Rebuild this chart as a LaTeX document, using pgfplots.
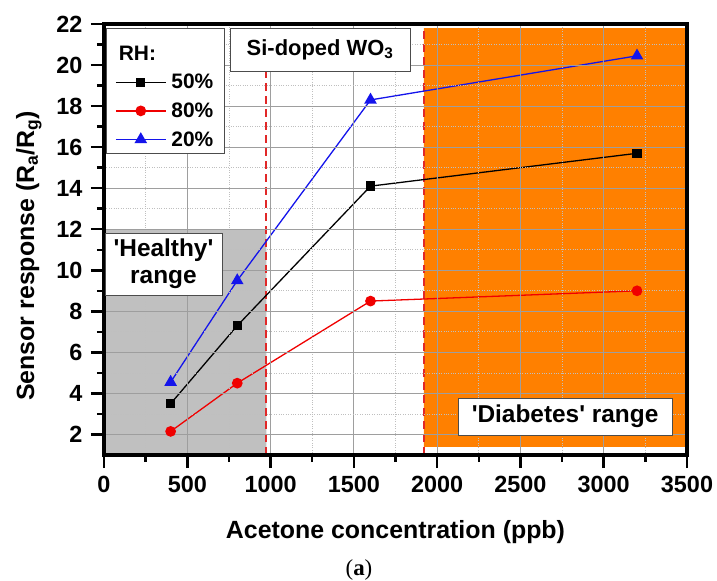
\documentclass[border=0pt]{standalone}
\usepackage{pgfplots}
\pgfplotsset{compat=1.18}
\usepackage{fontspec}
\setmainfont{Liberation Sans}[Ligatures=TeXOff]
\newfontfamily\seriffont{Liberation Serif}
\definecolor{myorange}{RGB}{255,128,0}
\definecolor{mygray}{RGB}{192,192,192}
\definecolor{myblue}{RGB}{20,20,235}
\definecolor{myred}{RGB}{240,0,0}
\definecolor{dashred}{RGB}{225,40,40}
\begin{document}
\begin{tikzpicture}
\begin{axis}[
  axis on top,
  scale only axis, width=583bp, height=431bp,
  xmin=0, xmax=3500, ymin=1, ymax=22,
  xtick={0,500,...,3500}, ytick={2,4,...,22},
  minor x tick num=1, minor y tick num=1,
  grid=both,
  major grid style={color=black!38, line width=0.9bp},
  minor grid style={color=black!25, dotted, line width=0.8bp},
  tick align=outside, tick pos=left,
  major tick length=13bp, minor tick length=7bp,
  axis line style={line width=3.5bp},
  tick style={line width=2.5bp, black},
  ticklabel style={font=\bfseries\fontsize{23.5}{26}\selectfont},
  xticklabel style={yshift=-5bp},
  yticklabel style={xshift=-5bp},
  /pgf/number format/assume math mode=true,
  /pgf/number format/1000 sep={},
  xlabel={Acetone concentration (ppb)},
  ylabel={Sensor response (R\textsubscript{a}/R\textsubscript{g})},
  label style={font=\bfseries\fontsize{25}{28}\selectfont},
  xlabel style={at={(axis description cs:0.5,-0.179)}, anchor=center},
  ylabel style={at={(axis description cs:-0.129,0.462)}, anchor=center},
  legend style={at={(axis description cs:0.003,0.991)}, anchor=north west,
    draw=black!70, line width=0.8bp, fill=white,
    font=\bfseries\fontsize{21}{23}\selectfont,
    row sep=8.5bp, column sep=3bp, inner xsep=9bp, inner ysep=4bp},
  legend cell align=left,
  legend image code/.code={\draw[mark repeat=2,mark phase=2] plot coordinates {(0bp,0bp) (25bp,0bp) (50bp,0bp)};},
]
% background regions
\addplot[fill=mygray, draw=none, forget plot] coordinates {(0,1) (975,1) (975,12) (0,12) (0,1)};
\addplot[fill=myorange, draw=none, forget plot] coordinates {(1920,1.4) (3490,1.4) (3490,21.8) (1920,21.8) (1920,1.4)};
\addplot[dashred, line width=2bp, dash pattern=on 8bp off 5bp, forget plot] coordinates {(975,1) (975,22)};
\addplot[dashred, line width=2bp, dash pattern=on 8bp off 5bp, forget plot] coordinates {(1920,1) (1920,22)};

\addlegendimage{empty legend}
\addlegendentry{\hspace{-65bp}\raisebox{0pt}[26bp]{RH:}}
\addplot[black, line width=1.3bp, mark=square*, mark size=4bp] coordinates {(400,3.5) (800,7.3) (1600,14.1) (3200,15.7)};
\addlegendentry{50\%}
\addplot[myred, line width=1.3bp, mark=*, mark size=4.7bp] coordinates {(400,2.15) (800,4.5) (1600,8.5) (3200,9.0)};
\addlegendentry{80\%}
\addplot[myblue, line width=1.3bp, mark=triangle*, mark size=6bp] coordinates {(400,4.55) (800,9.5) (1600,18.3) (3200,20.45)};
\addlegendentry{20\%}

\coordinate (si) at (axis cs:1297,20.76);
\coordinate (he) at (axis cs:357,10.3);
\coordinate (di) at (axis cs:2768,2.87);
\coordinate (ll) at (rel axis cs:0,0);
\coordinate (ur) at (rel axis cs:1,1);
\end{axis}
\draw[line width=3.5bp, black] (ll) rectangle (ur);
\node[draw=black!70, line width=0.8bp, fill=white, minimum width=180bp, minimum height=43bp, inner sep=2bp,
  font=\bfseries\fontsize{22}{24}\selectfont] at (si) {Si-doped WO\textsubscript{3}};
\node[draw=black!70, line width=0.8bp, fill=white, minimum width=117bp, minimum height=62bp, inner sep=2bp, align=center,
  font=\bfseries\fontsize{24.5}{27}\selectfont] at (he) {'Healthy'\\range};
\node[draw=black!70, line width=0.8bp, fill=white, minimum width=214bp, minimum height=37bp, inner sep=2bp,
  font=\bfseries\fontsize{24.5}{27}\selectfont] at (di) {'Diabetes' range};
\node[font=\seriffont\fontsize{23}{26}\selectfont] at (255bp,-115bp) {(\textbf{a})};
\pgfresetboundingbox
\useasboundingbox (-104bp,-126bp) rectangle (613bp,455bp);
\end{tikzpicture}
\end{document}
